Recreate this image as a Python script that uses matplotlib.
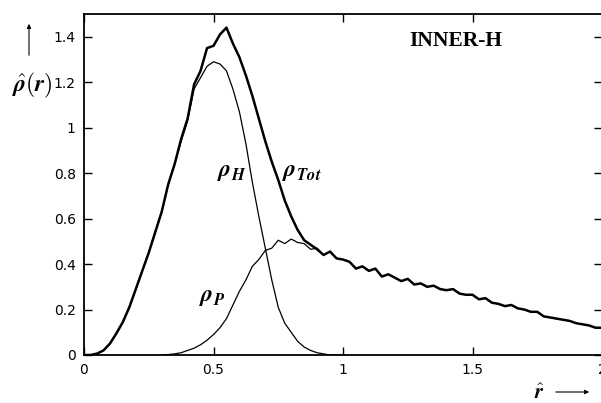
import numpy as np
import matplotlib
matplotlib.use("Agg")
import matplotlib.pyplot as plt
from matplotlib.ticker import FuncFormatter
from matplotlib.patches import FancyArrowPatch

plt.rcParams['mathtext.fontset'] = 'cm'

r_grid = [i * 0.025 for i in range(81)]

rho_tot = [0.00, 0.00, 0.006, 0.02, 0.05, 0.095, 0.145, 0.21, 0.29, 0.37,
           0.45, 0.54, 0.63, 0.75, 0.84, 0.95, 1.04, 1.19, 1.25, 1.35,
           1.36, 1.41, 1.44, 1.37, 1.31, 1.23, 1.14, 1.04, 0.94, 0.85,
           0.77, 0.68, 0.61, 0.55, 0.505, 0.485, 0.465, 0.44, 0.455, 0.425,
           0.42, 0.41, 0.38, 0.39, 0.37, 0.38, 0.345, 0.355, 0.34, 0.325,
           0.335, 0.31, 0.315, 0.30, 0.305, 0.29, 0.285, 0.29, 0.27, 0.265,
           0.265, 0.245, 0.25, 0.23, 0.225, 0.215, 0.22, 0.205, 0.20, 0.19,
           0.19, 0.17, 0.165, 0.16, 0.155, 0.15, 0.14, 0.135, 0.13, 0.12,
           0.12]

r_h = [i * 0.025 for i in range(41)]
rho_h = [0.00, 0.00, 0.006, 0.02, 0.05, 0.095, 0.145, 0.21, 0.29, 0.37,
         0.45, 0.54, 0.63, 0.75, 0.84, 0.94, 1.03, 1.17, 1.22, 1.27,
         1.29, 1.28, 1.25, 1.17, 1.07, 0.93, 0.76, 0.61, 0.47, 0.33,
         0.21, 0.14, 0.10, 0.06, 0.035, 0.02, 0.01, 0.005, 0.0, 0.0,
         0.0]

r_p = [0.30, 0.325, 0.35, 0.375, 0.40, 0.425, 0.45, 0.475, 0.50, 0.525,
       0.55, 0.575, 0.60, 0.625, 0.65, 0.675, 0.70, 0.725, 0.75, 0.775,
       0.80, 0.825, 0.85, 0.875, 0.90, 0.925, 0.95]
rho_p = [0.0, 0.002, 0.005, 0.01, 0.02, 0.03, 0.045, 0.065, 0.09, 0.12,
         0.16, 0.22, 0.28, 0.33, 0.39, 0.42, 0.46, 0.47, 0.505, 0.49,
         0.51, 0.495, 0.49, 0.465, 0.47, 0.44, 0.455]

x_ticks = [0, 0.5, 1, 1.5, 2]
y_ticks = [0, 0.2, 0.4, 0.6, 0.8, 1, 1.2, 1.4]

fig = plt.figure(figsize=(6.01, 4.03), dpi=100)
ax = fig.add_axes([84/601, 48/403, 518/601, 341/403])

ax.plot(r_grid, rho_tot, color='black', lw=1.8)
ax.plot(r_h, rho_h, color='black', lw=0.9)
ax.plot(r_p, rho_p, color='black', lw=0.9)

ax.set_xlim(0, 2)
ax.set_ylim(0, 1.5)
ax.set_xticks(x_ticks)
ax.set_yticks(y_ticks)
fmt = FuncFormatter(lambda v, p: '%g' % v)
ax.xaxis.set_major_formatter(fmt)
ax.yaxis.set_major_formatter(fmt)
ax.tick_params(direction='in', length=6, width=1, top=True, right=True,
               labelsize=10, pad=6)
for s in ax.spines.values():
    s.set_linewidth(1.3)

ax.text(0.573, 0.81, r'$\boldsymbol{\rho}_{\boldsymbol{H}}$', fontsize=17,
        ha='center', va='center')
ax.text(0.842, 0.81, r'$\boldsymbol{\rho}_{\boldsymbol{Tot}}$', fontsize=17,
        ha='center', va='center')
ax.text(0.495, 0.26, r'$\boldsymbol{\rho}_{\boldsymbol{P}}$', fontsize=17,
        ha='center', va='center')
ax.text((456 - 84) / 259, 1.38, 'INNER-H', fontsize=15.5, fontweight='bold',
        family='Liberation Serif', ha='center', va='center')

fig.text(32/601, 1 - 85/403, r'$\hat{\boldsymbol{\rho}}(\boldsymbol{r})$',
         fontsize=17, ha='center', va='center')
fig.add_artist(FancyArrowPatch(
    (29/601, 1 - 58/403), (29/601, 1 - 21/403), transform=fig.transFigure,
    arrowstyle='-|>', mutation_scale=6, lw=0.8, color='black'))
fig.text(539/601, 1 - 393/403, r'$\hat{\boldsymbol{r}}$', fontsize=15,
         ha='center', va='center')
fig.add_artist(FancyArrowPatch(
    (553/601, 1 - 392/403), (592/601, 1 - 392/403), transform=fig.transFigure,
    arrowstyle='-|>', mutation_scale=6, lw=0.8, color='black'))

fig.savefig('out.png', dpi=100)
